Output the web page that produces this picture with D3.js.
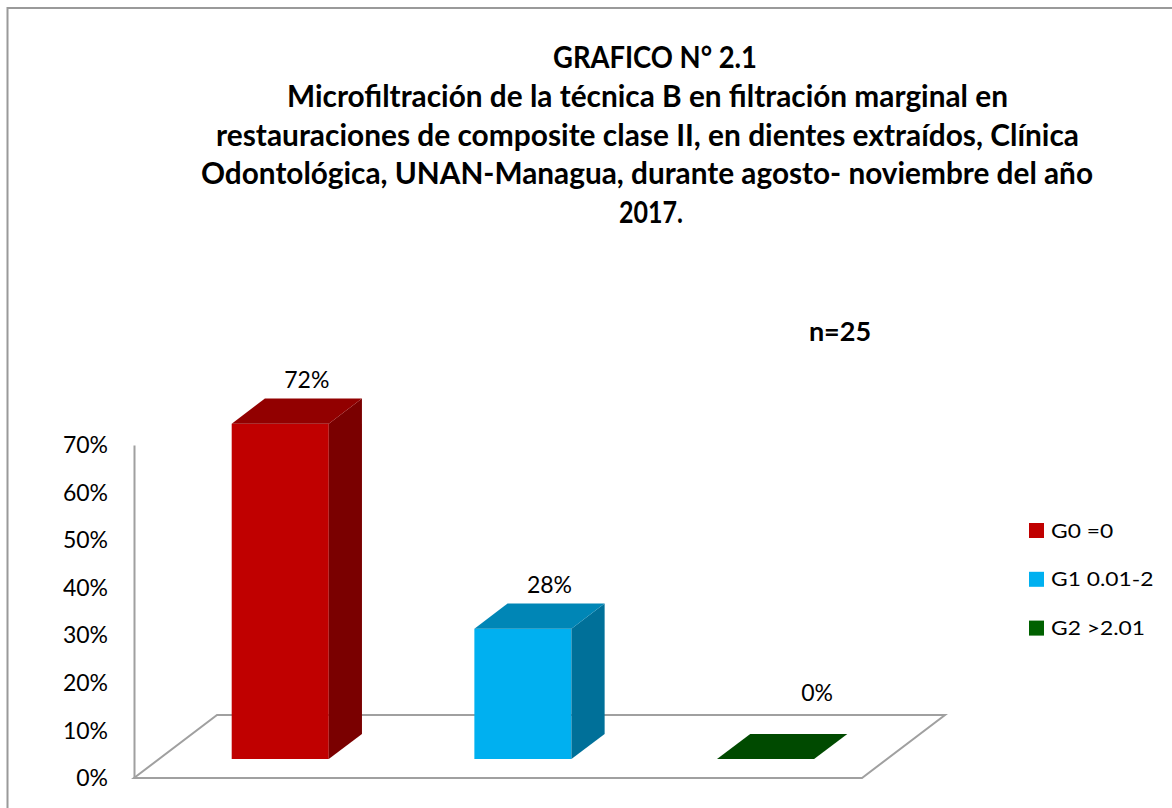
<!DOCTYPE html>
<html>
<head>
<meta charset="utf-8">
<script src="https://cdn.jsdelivr.net/npm/d3@7"></script>
<style>
  body { margin: 0; background: #fff; }
  svg { display: block; font-family: Lato, "Open Sans", sans-serif; }
</style>
</head>
<body>
<div id="chart"></div>
<script>
// data
const categories = ["G0 =0", "G1 0.01-2", "G2 >2.01"];
const values = [0.72, 0.28, 0.00];
const baseColors = ["#c00000", "#00b0f0", "#006100"];
const tickValues = [0, 0.1, 0.2, 0.3, 0.4, 0.5, 0.6, 0.7];
const titleLines = [
  "GRAFICO N° 2.1",
  "Microfiltración de la técnica B en filtración marginal en",
  "restauraciones de composite clase II, en dientes extraídos, Clínica",
  "Odontológica, UNAN-Managua, durante agosto- noviembre del año",
  "2017."
];
const sampleNote = "n=25";

const width = 1172, height = 808;

const svg = d3.select("#chart").append("svg")
  .attr("width", width)
  .attr("height", height);

// outer frame (runs off the right and bottom edges)
svg.append("rect")
  .attr("x", 7.5).attr("y", 8)
  .attr("width", width).attr("height", height)
  .attr("fill", "none")
  .attr("stroke", "#9a9a9a")
  .attr("stroke-width", 2);

// title: the lines are not all on one centre in the original
const titleX = [655, 647.5, 647.5, 647, 651];
const titleW = [204, 721, 863, 892, 64];
svg.append("g")
  .attr("font-weight", 700)
  .attr("font-size", 29.5)
  .attr("text-anchor", "middle")
  .selectAll("text")
  .data(titleLines)
  .join("text")
  .attr("x", (d, i) => titleX[i])
  .attr("y", (d, i) => 68 + i * 38.8)
  .attr("textLength", (d, i) => titleW[i])
  .attr("lengthAdjust", "spacingAndGlyphs")
  .text(d => d);

svg.append("text")
  .attr("x", 840).attr("y", 341)
  .attr("text-anchor", "middle")
  .attr("font-weight", 700)
  .attr("font-size", 27)
  .text(sampleNote);

// ============================
// oblique 3d projection
// ============================
const floorFront = 778;          // y of the front floor edge
const depthX = 83, depthY = -63; // offset from front to back of the floor

const xband = d3.scaleBand()
  .domain(categories)
  .range([134, 862])
  .padding(0);

// bar heights on the bar plane
const hscale = d3.scaleLinear()
  .domain([0, 0.7])
  .range([0, 326]);

// axis labels sit on the front plane
const yscale = d3.scaleLinear()
  .domain([0, 0.7])
  .range([778.5, 445]);

const P = (x, v, d) => [x + depthX * d, floorFront + depthY * d - hscale(v)];
const poly = pts => "M" + pts.map(p => p.join(",")).join("L") + "Z";

// floor outline
const x0 = xband.range()[0], x1 = xband.range()[1];
svg.append("path")
  .attr("d", poly([P(x0, 0, 0), P(x1, 0, 0), P(x1, 0, 1), P(x0, 0, 1)]))
  .attr("fill", "none")
  .attr("stroke", "#a0a0a0")
  .attr("stroke-width", 2);

// value axis
const yAxis = g => g
  .attr("transform", `translate(${x0},0)`)
  .call(d3.axisLeft(yscale)
    .tickValues(tickValues)
    .tickFormat(d3.format(".0%"))
    .tickSize(0)
    .tickPadding(26))
  .call(g => g.select(".domain").attr("stroke", "#a0a0a0").attr("stroke-width", 2))
  .call(g => g.selectAll("text")
    .attr("font-family", "Lato, sans-serif")
    .attr("font-size", 23)
    .attr("fill", "#000"));

svg.append("g").call(yAxis);

// bars
const d0 = 0.3, d1 = 0.7; // bar depth inside the floor
const bars = categories.map((c, i) => {
  const xl = xband(c) + xband.bandwidth() * 0.3;
  const xr = xband(c) + xband.bandwidth() * 0.7;
  return {c, v: values[i], color: baseColors[i], xl, xr};
});

const barG = svg.append("g")
  .selectAll("g")
  .data(bars)
  .join("g");

barG.append("path") // front
  .attr("d", b => poly([P(b.xl, 0, d0), P(b.xr, 0, d0), P(b.xr, b.v, d0), P(b.xl, b.v, d0)]))
  .attr("fill", b => b.color);

barG.append("path") // side
  .attr("d", b => poly([P(b.xr, 0, d0), P(b.xr, 0, d1), P(b.xr, b.v, d1), P(b.xr, b.v, d0)]))
  .attr("fill", b => d3.color(b.color).darker(1.27));

barG.append("path") // top
  .attr("d", b => poly([P(b.xl, b.v, d0), P(b.xr, b.v, d0), P(b.xr, b.v, d1), P(b.xl, b.v, d1)]))
  .attr("fill", b => d3.color(b.color).darker(0.77));

// data labels: above the bar top, or above the back of the floor when the bar is flat
const floorBack = P(x0, 0, 1)[1];
barG.append("text")
  .attr("text-anchor", "middle")
  .attr("font-size", 23)
  .each(function(b) {
    const xc = (b.xl + b.xr) / 2;
    const top = P(xc, b.v, d0)[1];
    const flat = top - 36 > floorBack - 14;
    const pos = flat ? [P(xc, 0, 0.92)[0], floorBack - 14] : [P(xc, b.v, 0.62)[0], top - 36];
    d3.select(this).attr("x", pos[0]).attr("y", pos[1]);
  })
  .text(b => d3.format(".0%")(b.v));

// legend
const legend = svg.append("g")
  .selectAll("g")
  .data(bars)
  .join("g")
  .attr("transform", (b, i) => `translate(1029,${523 + i * 48.8})`);

legend.append("rect")
  .attr("width", 15).attr("height", 15)
  .attr("fill", b => b.color);

// the legend text in the original is drawn a little wide
legend.append("text")
  .attr("x", 22).attr("y", 14.5)
  .attr("font-size", 19)
  .text(b => b.c)
  .each(function() {
    const w = this.getComputedTextLength();
    d3.select(this).attr("textLength", w * 1.2).attr("lengthAdjust", "spacingAndGlyphs");
  });
</script>
</body>
</html>
